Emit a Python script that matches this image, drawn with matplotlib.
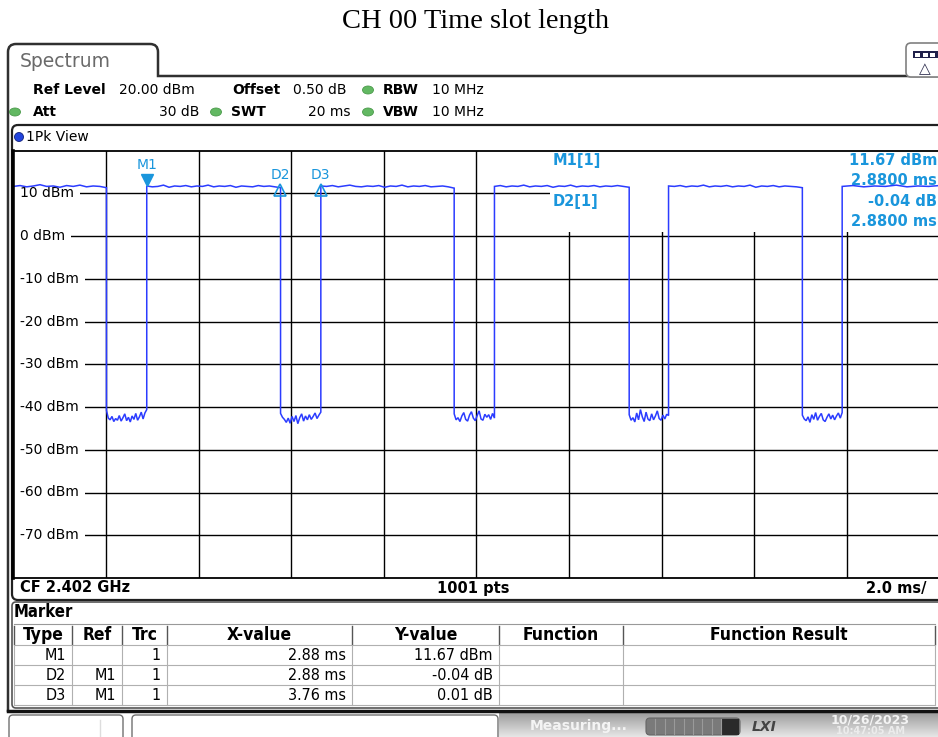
import numpy as np
import matplotlib
matplotlib.use('Agg')
import matplotlib.pyplot as plt
from matplotlib.patches import FancyBboxPatch, Rectangle, Ellipse, PathPatch
from matplotlib.path import Path
from matplotlib.transforms import offset_copy

plt.rcParams['font.family'] = ['DejaVu Sans']
NARROW = ['Liberation Sans Narrow', 'DejaVu Sans']

W, H = 938, 737

# burst edges (ms)
FALL_MS = [2.01, 5.77, 9.52, 13.30, 17.04]
RISE_MS = [2.88, 6.64, 10.39, 14.15, 17.90]

# trace level during the bursts (dBm)
HIGH_SEGS = [
    [11.6, 11.8, 11.5, 11.7, 12.0, 11.6, 11.7, 11.4, 11.8, 11.6, 11.9, 11.5, 11.7, 11.6, 11.3],
    [11.7, 11.5, 11.6, 11.9, 11.4, 11.7, 11.6, 11.8, 11.5, 11.7, 11.6, 11.9, 11.5,
     11.7, 11.6, 11.8, 11.4, 11.7, 11.6, 11.5, 11.8, 11.6, 11.7, 11.5, 11.3],
    [11.7, 11.6, 11.8, 11.5, 11.7, 11.9, 11.6, 11.5, 11.7, 11.6, 11.8, 11.4, 11.7,
     11.6, 11.9, 11.5, 11.7, 11.6, 11.8, 11.5, 11.6, 11.7, 11.5, 11.2],
    [11.6, 11.8, 11.5, 11.7, 11.6, 11.9, 11.5, 11.7, 11.6, 11.8, 11.4, 11.7, 11.6,
     11.9, 11.5, 11.7, 11.6, 11.8, 11.5, 11.7, 11.6, 11.8, 11.6, 11.4],
    [11.7, 11.6, 11.8, 11.5, 11.7, 11.6, 11.9, 11.5, 11.7, 11.6, 11.8, 11.5, 11.7,
     11.6, 11.9, 11.4, 11.7, 11.6, 11.8, 11.5, 11.7, 11.6, 11.5, 11.3],
    [11.6, 11.8, 11.5, 11.7, 11.6, 11.9, 11.5, 11.7, 11.6, 11.8],
]
# noise floor between bursts (dBm)
LOW_SEGS = [
    [-40.8, -42.6, -43.0, -42.2, -43.4, -42.7, -43.1, -42.0, -43.3, -42.5, -41.6, -43.2,
     -42.4, -43.5, -42.1, -42.9, -41.5, -43.1, -42.3, -41.2, -42.8, -41.4, -40.6],
    [-41.5, -42.4, -42.9, -43.6, -42.6, -43.8, -42.2, -43.4, -42.0, -43.9, -42.5, -41.6,
     -43.3, -42.1, -43.0, -41.8, -42.9, -42.2, -41.4, -42.7, -41.9, -41.2],
    [-41.6, -43.0, -42.5, -43.4, -42.1, -41.3, -42.9, -43.3, -41.9, -41.1, -42.6, -43.2,
     -42.0, -40.9, -42.8, -43.1, -41.7, -42.4, -41.8, -42.9, -41.5, -42.6],
    [-41.8, -43.1, -42.5, -43.5, -41.4, -43.0, -40.6, -42.3, -43.4, -41.2, -42.8, -43.2,
     -41.6, -43.0, -42.1, -40.9, -42.7, -43.1, -41.9, -42.8, -41.7, -42.0],
    [-41.9, -42.8, -43.2, -42.3, -43.6, -41.8, -42.9, -41.3, -43.1, -42.2, -41.5, -43.0,
     -43.4, -42.4, -41.6, -42.8, -41.9, -43.0, -42.1, -41.4, -42.6, -41.3],
]

Y_TICKS = [10, 0, -10, -20, -30, -40, -50, -60, -70]
X_GRID = [2, 4, 6, 8, 10, 12, 14, 16, 18]

# reference marker M1 and delta markers relative to it
M1_X, M1_Y = 2.88, 11.67
DELTA_NAMES = ['D2', 'D3']
DELTA_DX = [2.88, 3.76]
DELTA_DY = [-0.04, 0.01]

TABLE_COLS = ['Type', 'Ref', 'Trc', 'X-value', 'Y-value', 'Function', 'Function Result']
COL_EDGES = [14, 72, 122, 167, 352, 499, 623, 935]

BLUE = '#2b3cff'
MKR = '#1a96dc'
GREEN = '#62b862'

fig = plt.figure(figsize=(W / 100, H / 100), dpi=100, facecolor='white')
bg = fig.add_axes([0, 0, 1, 1])
bg.set_xlim(0, W)
bg.set_ylim(H, 0)
bg.axis('off')
PX = bg.transData  # pixel coordinates, y down

# title
bg.text(476, 21, 'CH 00 Time slot length', ha='center', va='center',
        family='Liberation Serif', fontsize=20.5)

# "Spectrum" tab and window outline
tab = Path([(8, 712), (8, 52), (8, 44), (16, 44), (150, 44), (158, 44), (158, 52),
            (158, 76), (945, 76)],
           [Path.MOVETO, Path.LINETO, Path.CURVE3, Path.CURVE3, Path.LINETO,
            Path.CURVE3, Path.CURVE3, Path.LINETO, Path.LINETO])
bg.add_patch(PathPatch(tab, fc='none', ec='#303030', lw=1.8))
bg.text(20, 61, 'Spectrum', color='#6a6a6a', fontsize=13.5, va='center')

# top-right icon
bg.add_patch(FancyBboxPatch((906, 43), 40, 34, boxstyle='round,pad=0,rounding_size=5',
                            fc='white', ec='#808080', lw=1.2))
bg.add_patch(Rectangle((913, 51), 25, 7, fc='#20204a', ec='none'))
for k in range(3):
    bg.add_patch(Rectangle((915 + k * 7.5, 52.5), 5, 4, fc='white', ec='none'))
bg.text(925, 69, '\u25b3', ha='center', va='center', fontsize=11, color='#303050')


def dot(x, y):
    bg.add_patch(Ellipse((x, y), 11, 8, fc=GREEN, ec='#4c9a4c', lw=0.6))


# settings rows
bg.text(33, 90, 'Ref Level', fontweight='bold', fontsize=10, va='center')
bg.text(119, 90, '20.00 dBm', fontsize=10, va='center')
bg.text(232, 90, 'Offset', fontweight='bold', fontsize=10, va='center')
bg.text(293, 90, '0.50 dB', fontsize=10, va='center')
dot(368, 90)
bg.text(383, 90, 'RBW', fontweight='bold', fontsize=10, va='center')
bg.text(432, 90, '10 MHz', fontsize=10, va='center')

dot(15, 112)
bg.text(33, 112, 'Att', fontweight='bold', fontsize=10, va='center')
bg.text(199, 112, '30 dB', fontsize=10, va='center', ha='right')
dot(216, 112)
bg.text(231, 112, 'SWT', fontweight='bold', fontsize=10, va='center')
bg.text(350, 112, '20 ms', fontsize=10, va='center', ha='right')
dot(368, 112)
bg.text(383, 112, 'VBW', fontweight='bold', fontsize=10, va='center')
bg.text(432, 112, '10 MHz', fontsize=10, va='center')

# diagram window
bg.add_patch(FancyBboxPatch((12, 125), 960, 475, boxstyle='round,pad=0,rounding_size=6',
                            fc='none', ec='#202020', lw=1.6))
bg.add_patch(Ellipse((19, 137), 9, 9, fc='#2244dd', ec='#10207a', lw=0.6))
bg.text(26, 137, '1Pk View', fontsize=10, va='center')

bg.text(20, 588, 'CF 2.402 GHz', fontweight='bold', fontsize=10.5, va='center')
bg.text(473, 588, '1001 pts', fontweight='bold', fontsize=10.5, va='center', ha='center')
bg.text(927, 588, '2.0 ms/', fontweight='bold', fontsize=10.5, va='center', ha='right')

# marker table
bg.add_patch(FancyBboxPatch((12, 602), 960, 106, boxstyle='round,pad=0,rounding_size=4',
                            fc='none', ec='#555555', lw=1.2))
bg.text(14, 612, 'Marker', family=NARROW, fontstretch='condensed', fontweight='semibold',
        fontsize=12, va='center')
bg.plot([14, 935], [624, 624], color='#999999', lw=0.8)
for yy in (645, 665, 685, 705):
    bg.plot([14, 935], [yy, yy], color='#b0b0b0', lw=0.8)
for xx in COL_EDGES:
    bg.plot([xx, xx], [626, 644], color='#555555', lw=1.0)
    bg.plot([xx, xx], [645, 705], color='#b0b0b0', lw=0.8)
for name, x0, x1 in zip(TABLE_COLS, COL_EDGES[:-1], COL_EDGES[1:]):
    bg.text((x0 + x1) / 2, 635, name, family=NARROW, fontstretch='condensed',
            fontweight='bold', fontsize=12.5, ha='center', va='center')

rows = [('M1', '', '1', f'{M1_X:.2f} ms', f'{M1_Y:.2f} dBm')]
for n, dx, dy in zip(DELTA_NAMES, DELTA_DX, DELTA_DY):
    rows.append((n, 'M1', '1', f'{dx:.2f} ms', f'{dy:.2f} dB'))
for r, row in enumerate(rows):
    yy = 655 + 20 * r
    for c, s in enumerate(row):
        bg.text(COL_EDGES[c + 1] - 6, yy, s, family=NARROW, fontstretch='condensed',
                fontsize=11.5, ha='right', va='center')

# status bar
bg.plot([8, 945], [711, 711], color='#111111', lw=2.5)
bg.add_patch(FancyBboxPatch((9, 715), 114, 30, boxstyle='round,pad=0,rounding_size=4',
                            fc='white', ec='#707070', lw=1.0))
bg.plot([100, 100], [720, 737], color='#dddddd', lw=1.0)
bg.add_patch(FancyBboxPatch((132, 715), 366, 30, boxstyle='round,pad=0,rounding_size=4',
                            fc='white', ec='#707070', lw=1.0))
grad = np.linspace(0.62, 0.9, 30)[:, None] * np.ones((1, 2))
bg.imshow(grad, cmap='gray', vmin=0, vmax=1, extent=(499, 945, 737, 713), aspect='auto',
          zorder=0.5)
bg.text(530, 726, 'Measuring...', color='#f4f4f4', fontsize=10, fontweight='bold',
        va='center')
bg.add_patch(FancyBboxPatch((646, 718), 94, 17, boxstyle='round,pad=0,rounding_size=4',
                            fc='#7a7a7a', ec='#666666', lw=0.8))
for k in range(1, 9):
    bg.plot([646 + k * 9.4, 646 + k * 9.4], [719, 734], color='#9a9a9a', lw=0.8)
bg.add_patch(Rectangle((722, 718.5), 17, 16, fc='#2a2a2a', ec='none'))
bg.text(764, 727, 'LXI', color='#444444', fontsize=10, fontweight='bold', style='italic',
        ha='center', va='center')
bg.text(870, 720, '10/26/2023', color='#f4f4f4', fontsize=9, fontweight='bold',
        ha='center', va='center')
bg.text(870, 731.5, '10:47:05 AM', color='#ececec', fontsize=7, fontweight='bold',
        ha='center', va='center')

# diagram area: 0..20 ms, -80..20 dBm
PX0, PX1 = 13.4, 939.4
PY0, PY1 = 150.5, 578.0
ax = fig.add_axes([PX0 / W, 1 - PY1 / H, (PX1 - PX0) / W, (PY1 - PY0) / H])
ax.set_xlim(0, 20)
ax.set_ylim(-80, 20)
ax.set_xticks([])
ax.set_yticks([])
ax.spines['left'].set_linewidth(2.6)
ax.spines['left'].set_zorder(10)
ax.spines['top'].set_linewidth(1.3)
ax.spines['bottom'].set_linewidth(1.3)
ax.spines['right'].set_visible(False)

for x in X_GRID:
    ax.axvline(x, color='black', lw=1.0, zorder=1)
for y in Y_TICKS:
    ax.axhline(y, color='black', lw=1.0, zorder=1)
    ax.text(0.14, y, f'{y} dBm', fontsize=10, va='center', ha='left', zorder=2,
            bbox=dict(boxstyle='square,pad=0.45', fc='white', ec='none'))

# marker readout area hides the grid
ax.add_patch(Rectangle((11.59, 0.94), 9, 20, fc='white', ec='none', zorder=1.5))

t, v = [], []
high_start = [0.0] + RISE_MS
high_end = FALL_MS + [20.0]
for i, seg in enumerate(HIGH_SEGS):
    t.extend(np.linspace(high_start[i], high_end[i], len(seg)))
    v.extend(seg)
    if i < len(LOW_SEGS):
        t.extend(np.linspace(FALL_MS[i], RISE_MS[i], len(LOW_SEGS[i])))
        v.extend(LOW_SEGS[i])
ax.plot(t, v, color=BLUE, lw=1.1, zorder=3, solid_joinstyle='miter')

# markers
up = offset_copy(ax.transData, fig=fig, y=6, units='dots')
down = offset_copy(ax.transData, fig=fig, y=-4, units='dots')
ax.plot([M1_X], [M1_Y], marker='v', ms=8, color=MKR, transform=up, zorder=4, clip_on=False)
ax.annotate('M1', (M1_X, M1_Y), xytext=(0, 21), textcoords='offset pixels', ha='center',
            va='center', color=MKR, fontsize=10)
for n, dx, dy in zip(DELTA_NAMES, DELTA_DX, DELTA_DY):
    ax.plot([M1_X + dx], [M1_Y + dy], marker='^', ms=8, mfc='none', mec=MKR, mew=1.2,
            transform=down, zorder=4)
    ax.annotate(n, (M1_X + dx, M1_Y + dy), xytext=(0, 11), textcoords='offset pixels',
                ha='center', va='center', color=MKR, fontsize=10)

# marker readout
kw = dict(transform=PX, color=MKR, fontweight='bold', fontsize=10.5, va='center', zorder=2)
ax.text(553, 160, 'M1[1]', **kw)
ax.text(937, 160, f'{M1_Y:.2f} dBm', ha='right', **kw)
ax.text(937, 180, f'{M1_X:.4f} ms', ha='right', **kw)
ax.text(553, 201, f'{DELTA_NAMES[0]}[1]', **kw)
ax.text(937, 201, f'{DELTA_DY[0]:.2f} dB', ha='right', **kw)
ax.text(937, 221, f'{DELTA_DX[0]:.4f} ms', ha='right', **kw)

fig.savefig('out.png', dpi=100, facecolor='white')
